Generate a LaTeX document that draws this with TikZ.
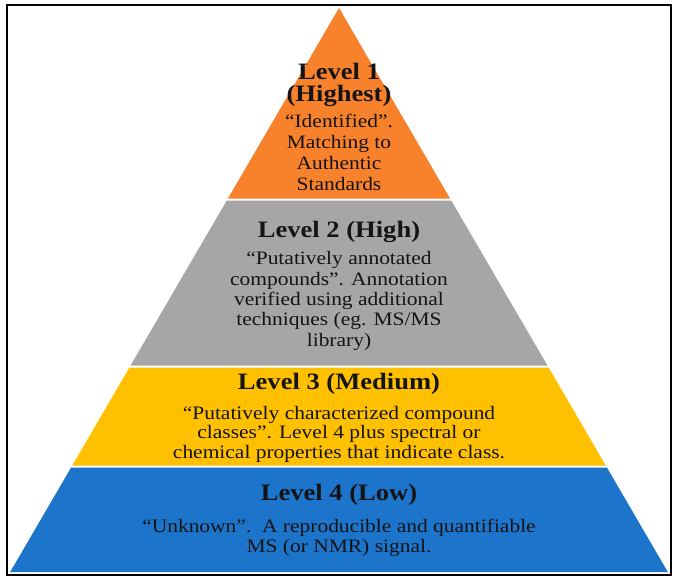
\documentclass[tikz,border=0pt]{standalone}
\usepackage{fontspec}
\setmainfont{Liberation Serif}[FakeStretch=1.13]
\usetikzlibrary{calc}
\definecolor{lvorange}{HTML}{F8812B}
\definecolor{lvgray}{HTML}{A6A6A6}
\definecolor{lvyellow}{HTML}{FFC000}
\definecolor{lvblue}{HTML}{1C74CB}
\definecolor{txt}{HTML}{141414}
\begin{document}
\begin{tikzpicture}[x=1pt,y=-1pt,
  titlestyle/.style={anchor=base,align=center,text=txt,inner sep=0pt,
    font={\fontsize{23.5}{21.5}\selectfont\bfseries}},
  bodystyle/.style={anchor=base,align=center,text=txt,inner sep=0pt,
    font={\fontsize{19}{20.7}\selectfont}},
  bandA/.style={fill=lvorange},
  bandB/.style={fill=lvgray},
  bandC/.style={fill=lvyellow},
  bandD/.style={fill=lvblue}]
\useasboundingbox (0,0) rectangle (679,586);
\fill[white] (0,0) rectangle (679,586);
\def\kk{0.583}
% pyramid bands
\fill[bandA] (339,8) -- ({339+(198.5-8)*\kk},198.5) -- ({339-(198.5-8)*\kk},198.5) -- cycle;
\fill[bandB] ({339-(200.5-8)*\kk},200.5) -- ({339+(200.5-8)*\kk},200.5) -- ({339+(365.5-8)*\kk},365.5) -- ({339-(365.5-8)*\kk},365.5) -- cycle;
\fill[bandC] ({339-(367.5-8)*\kk},367.5) -- ({339+(367.5-8)*\kk},367.5) -- ({339+(465.5-8)*\kk},465.5) -- ({339-(465.5-8)*\kk},465.5) -- cycle;
\fill[bandD] ({339-(467.5-8)*\kk},467.5) -- ({339+(467.5-8)*\kk},467.5) -- ({339+(572-8)*\kk},572) -- ({339-(572-8)*\kk},572) -- cycle;
% frame
\draw[line width=2.5pt,black] (7,5) rectangle (671,575);
% texts (anchor base = baseline of the last line)
\node[titlestyle] (t1) at (339,101) {Level 1\\(Highest)};
\node[bodystyle] (b1) at (339,190) {“Identified”.\\Matching to\\Authentic\\Standards};
\node[titlestyle] (t2) at (339,237) {Level 2 (High)};
\node[bodystyle,font={\fontsize{19}{20.3}\selectfont}] (b2) at (339,346) {“Putatively annotated\\compounds”. Annotation\\verified using additional\\techniques (eg. MS/MS\\library)};
\node[titlestyle] (t3) at (339,389) {Level 3 (Medium)};
\node[bodystyle,font={\fontsize{19}{19.5}\selectfont}] (b3) at (339,458) {“Putatively characterized compound\\classes”. Level 4 plus spectral or\\chemical properties that indicate class.};
\node[titlestyle] (t4) at (339,500) {Level 4 (Low)};
\node[bodystyle,font={\fontsize{19}{20}\selectfont}] (b4) at (339,552) {“Unknown”.\ \ A reproducible and quantifiable\\MS (or NMR) signal.};
\end{tikzpicture}
\end{document}
